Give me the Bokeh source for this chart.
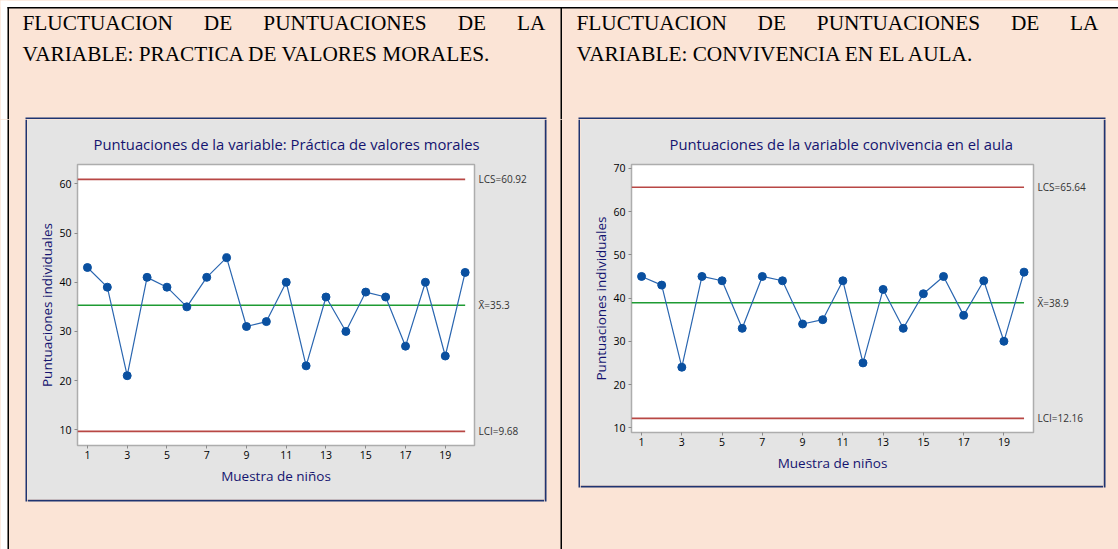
from bokeh.plotting import figure
from bokeh.layouts import row, column
from bokeh.models import Range1d, FixedTicker, LinearAxis
from bokeh.core.properties import value
from bokeh.embed import file_html
from bokeh.resources import INLINE

# ---------------- data ----------------
muestra = list(range(1, 21))
practica = [43, 39, 21, 41, 39, 35, 41, 45, 31, 32, 40, 23, 37, 30, 38, 37, 27, 40, 25, 42]
convivencia = [45, 43, 24, 45, 44, 33, 45, 44, 34, 35, 44, 25, 42, 33, 41, 45, 36, 44, 30, 46]
lcs_practica, media_practica, lci_practica = 60.92, 35.3, 9.68
lcs_convivencia, media_convivencia, lci_convivencia = 65.64, 38.9, 12.16
x_ticks = [1, 3, 5, 7, 9, 11, 13, 15, 17, 19]
y_ticks_practica = [10, 20, 30, 40, 50, 60]
y_ticks_convivencia = [10, 20, 30, 40, 50, 60, 70]
titulo_practica = "Puntuaciones de la variable: Práctica de valores morales"
titulo_convivencia = "Puntuaciones de la variable convivencia en el aula"
eje_x = "Muestra de niños"
eje_y = "Puntuaciones individuales"
enc1_l1 = "FLUCTUACION DE PUNTUACIONES DE LA"
enc1_l2 = "VARIABLE: PRACTICA DE VALORES MORALES."
enc2_l1 = "FLUCTUACION DE PUNTUACIONES DE LA"
enc2_l2 = "VARIABLE: CONVIVENCIA EN EL AULA."

# ---------------- styles ----------------
PEACH = "#FBE4D6"
WHITE = "#FFFFFF"
BLACK = "#000000"
NAVY = "#1F3471"
GRAY = "#E4E4E4"
TITLE_C = "#141470"
RED = "#B84744"
GREEN = "#1E9B33"
BLUE_L = "#2A66B0"
BLUE_P = "#0A50A0"
UI_FONT = "Open Sans"
SERIF = "Liberation Serif"
FS = 21.3
BG = {"background-color": PEACH}

TNR = {"F": 0.556, "L": 0.611, "U": 0.722, "C": 0.667, "T": 0.611, "A": 0.722,
       "I": 0.333, "O": 0.722, "N": 0.722, "D": 0.722, "E": 0.611, "P": 0.556, "S": 0.556}


def filler(w, h, rects=()):
    p = figure(width=w, height=h, x_range=Range1d(0, w), y_range=Range1d(h, 0),
               toolbar_location=None, output_backend="svg", min_border=0,
               x_axis_location=None, y_axis_location=None)
    p.grid.visible = False
    p.outline_line_color = None
    p.background_fill_color = PEACH
    p.border_fill_color = PEACH
    for (x0, x1, y0, y1, c) in rects:
        p.quad(left=[x0], right=[x1], top=[y0], bottom=[y1], fill_color=c, line_color=None)
    return p


def justified(p, text, left, right, y):
    words = text.split()
    widths = [sum(TNR[c] for c in w) * FS for w in words]
    gap = (right - left - sum(widths)) / (len(words) - 1)
    xs, acc = [], left
    for wd in widths:
        xs.append(acc)
        acc += wd + gap
    p.text(x=xs, y=[y] * len(words), text=words, text_font=value(SERIF),
           text_font_size=f"{FS}px", text_color=BLACK, text_baseline="middle",
           text_align="left")


def plain(p, text, left, y):
    p.text(x=[left], y=[y], text=[text], text_font=value(SERIF),
           text_font_size=f"{FS}px", text_color=BLACK, text_baseline="middle",
           text_align="left")


def chart(w, h, ml, mr, mt, mb, yr, yticks, vals, lcs, media, lci, titulo, toff):
    p = figure(width=w, height=h, x_range=Range1d(0.5, 20.47), y_range=Range1d(*yr),
               toolbar_location=None, output_backend="svg",
               min_border_left=ml, min_border_right=mr, min_border_top=mt, min_border_bottom=mb)
    p.border_fill_color = GRAY
    p.background_fill_color = "white"
    p.outline_line_color = "#ADADAD"
    p.outline_line_width = 1.5
    p.grid.visible = False

    p.title.text = titulo
    p.title.align = "left"
    p.title.offset = toff
    p.title.text_font = UI_FONT
    p.title.text_font_size = "14.8px"
    p.title.text_font_style = "normal"
    p.title.text_color = TITLE_C
    p.title.standoff = 22

    for ax in (p.xaxis[0], p.yaxis[0]):
        ax.axis_line_color = None
        ax.major_tick_line_color = "#8A8A8A"
        ax.major_tick_out = 3
        ax.major_tick_in = 0
        ax.minor_tick_line_color = None
        ax.major_label_text_font = UI_FONT
        ax.major_label_text_font_size = "10.5px"
        ax.major_label_text_color = "#000000"
        ax.axis_label_text_font = UI_FONT
        ax.axis_label_text_font_size = "13.5px"
        ax.axis_label_text_font_style = "normal"
        ax.axis_label_text_color = TITLE_C
    p.xaxis.ticker = FixedTicker(ticks=x_ticks)
    p.yaxis.ticker = FixedTicker(ticks=yticks)
    p.xaxis.axis_label = eje_x
    p.yaxis.axis_label = eje_y
    p.xaxis.major_label_standoff = 2
    p.yaxis.major_label_standoff = 3
    p.xaxis.axis_label_standoff = 5
    p.yaxis.axis_label_standoff = 0

    lab = LinearAxis(ticker=FixedTicker(ticks=[lcs, media, lci]),
                     major_label_overrides={lcs: f"LCS={lcs:g}", media: f"X\u0304={media:g}",
                                            lci: f"LCI={lci:g}"})
    lab.axis_line_color = None
    lab.major_tick_line_color = None
    lab.minor_tick_line_color = None
    lab.major_tick_out = 0
    lab.major_tick_in = 0
    lab.major_label_standoff = 4
    lab.major_label_text_font = UI_FONT
    lab.major_label_text_font_size = "10px"
    lab.major_label_text_color = "#333333"
    p.add_layout(lab, "right")

    x0, x1 = 0.5, muestra[-1]
    p.segment(x0=[x0, x0], x1=[x1, x1], y0=[lcs, lci], y1=[lcs, lci], line_color=RED, line_width=1.6)
    p.segment(x0=[x0], x1=[x1], y0=[media], y1=[media], line_color=GREEN, line_width=1.5)
    p.line(muestra, vals, line_color=BLUE_L, line_width=1.2)
    p.scatter(muestra, vals, size=8, fill_color=BLUE_P, line_color=BLUE_P)
    return p


# ---------------- heading band (page y 0..119) ----------------
top = filler(1118, 119, rects=[
    (0, 7, 0, 119, WHITE),
    (0, 1118, 0, 6.5, WHITE),
    (7, 1118, 6.5, 8, BLACK),
    (7, 8.5, 6.5, 119, BLACK),
    (560, 561.5, 6.5, 119, BLACK),
    (25, 546, 117, 119, NAVY),
    (578, 1105, 117, 119, NAVY),
])
justified(top, enc1_l1, 22, 545, 22)
plain(top, enc1_l2, 22, 53.5)
justified(top, enc2_l1, 576, 1098, 22)
plain(top, enc2_l2, 576, 53.5)

# ---------------- charts ----------------
c1 = chart(517, 380, 50, 70, 45, 54, (6.8, 63.95), y_ticks_practica, practica,
           lcs_practica, media_practica, lci_practica, titulo_practica, 16)
c2 = chart(523, 366, 51, 70, 45, 53, (8.9, 70.9), y_ticks_convivencia, convivencia,
           lcs_convivencia, media_convivencia, lci_convivencia, titulo_convivencia, 38)

colA = column(c1, row(filler(517, 50, rects=[(0, 517, 0, 2, NAVY)]), styles=BG), styles=BG)
colB = column(c2, row(filler(523, 64, rects=[(0, 523, 0, 2, NAVY)]), styles=BG), styles=BG)
fL = filler(27, 430, rects=[(0, 7, 0, 430, WHITE), (7, 8.5, 0, 430, BLACK), (25, 27, 0, 382, NAVY)])
fM = filler(36, 430, rects=[(0, 2, 0, 382, NAVY), (16, 17.5, 0, 430, BLACK), (34, 36, 0, 368, NAVY)])
fR = filler(15, 430, rects=[(0, 2, 0, 368, NAVY)])

root = column(top, row(fL, colA, fM, colB, fR, styles=BG), styles=BG)

open("out.html", "w").write(file_html(root, INLINE))
